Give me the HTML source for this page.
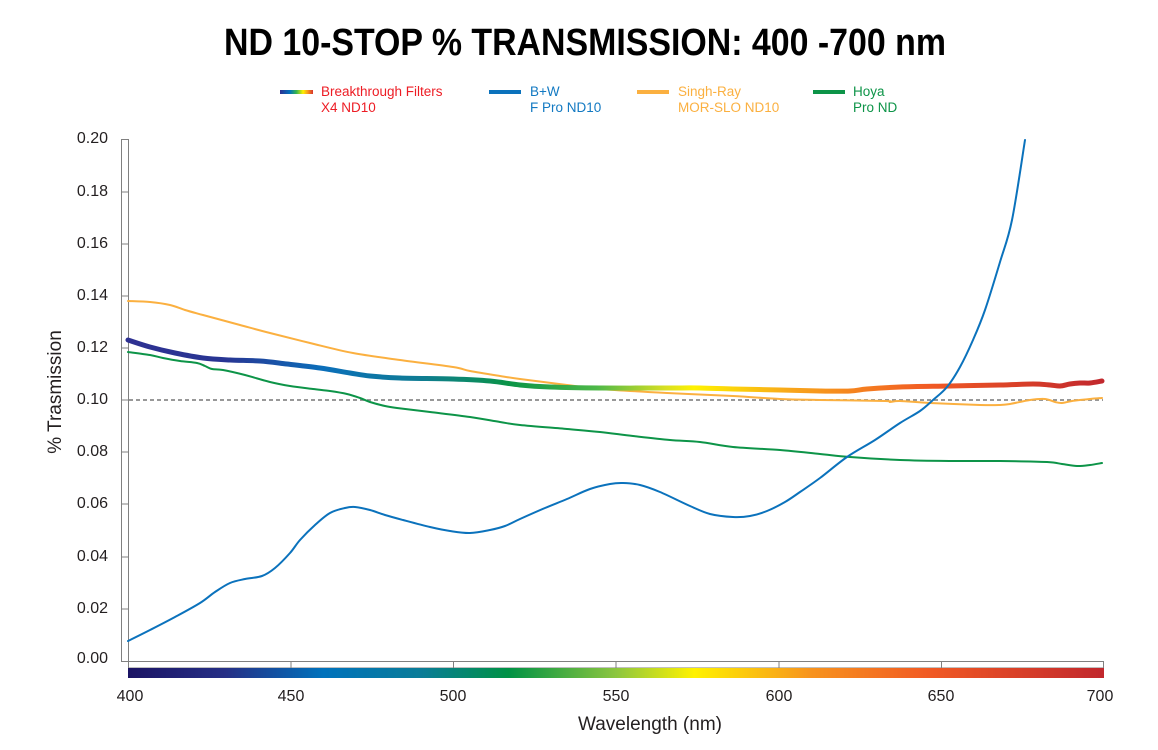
<!DOCTYPE html>
<html>
<head>
<meta charset="utf-8">
<style>
html,body{margin:0;padding:0;background:#fff;}
svg{display:block;}
text{font-family:"Liberation Sans",sans-serif;}
</style>
</head>
<body>
<svg id="chart" width="1158" height="750" viewBox="0 0 1158 750" xmlns="http://www.w3.org/2000/svg">
<defs>
<linearGradient id="spec" gradientUnits="userSpaceOnUse" x1="128" y1="0" x2="1104" y2="0">
<stop offset="0" stop-color="#1b1464"/>
<stop offset="0.1" stop-color="#262f86"/>
<stop offset="0.2" stop-color="#0072bc"/>
<stop offset="0.3" stop-color="#0a7c98"/>
<stop offset="0.39" stop-color="#009245"/>
<stop offset="0.5" stop-color="#8cc63f"/>
<stop offset="0.58" stop-color="#fff200"/>
<stop offset="0.7" stop-color="#f7931e"/>
<stop offset="0.82" stop-color="#f15a24"/>
<stop offset="1" stop-color="#c1272d"/>
</linearGradient>
<linearGradient id="specline" gradientUnits="userSpaceOnUse" x1="128" y1="0" x2="1104" y2="0">
<stop offset="0" stop-color="#2e3192"/>
<stop offset="0.1" stop-color="#283593"/>
<stop offset="0.2" stop-color="#0b6fba"/>
<stop offset="0.3" stop-color="#0f7c93"/>
<stop offset="0.39" stop-color="#0a9447"/>
<stop offset="0.48" stop-color="#4db848"/>
<stop offset="0.55" stop-color="#d7df23"/>
<stop offset="0.58" stop-color="#fff200"/>
<stop offset="0.68" stop-color="#f8a51b"/>
<stop offset="0.82" stop-color="#f15a24"/>
<stop offset="1" stop-color="#c1272d"/>
</linearGradient>
<linearGradient id="leg" x1="0" y1="0" x2="1" y2="0">
<stop offset="0" stop-color="#2e3192"/>
<stop offset="0.3" stop-color="#0072bc"/>
<stop offset="0.5" stop-color="#39b54a"/>
<stop offset="0.7" stop-color="#fff200"/>
<stop offset="0.85" stop-color="#f7931e"/>
<stop offset="1" stop-color="#d7322d"/>
</linearGradient>
</defs>

<!-- Title -->
<text x="224" y="55" font-size="38" font-weight="bold" fill="#000" textLength="722" lengthAdjust="spacingAndGlyphs">ND 10-STOP % TRANSMISSION: 400 -700 nm</text>

<!-- Legend -->
<rect x="280" y="90" width="33" height="4" fill="url(#leg)"/>
<text x="321" y="96" font-size="13.5" fill="#ed1c24">Breakthrough Filters</text>
<text x="321" y="112" font-size="13.5" fill="#ed1c24">X4 ND10</text>
<rect x="489" y="90" width="32" height="4" fill="#0b72bc"/>
<text x="530" y="96" font-size="13.5" fill="#1279c2">B+W</text>
<text x="530" y="112" font-size="13.5" fill="#1279c2">F Pro ND10</text>
<rect x="637" y="90" width="32" height="4" fill="#fbb040"/>
<text x="678" y="96" font-size="13.5" fill="#fbb040">Singh-Ray</text>
<text x="678" y="112" font-size="13.5" fill="#fbb040">MOR-SLO ND10</text>
<rect x="813" y="90" width="32" height="4" fill="#0d9448"/>
<text x="853" y="96" font-size="13.5" fill="#0d9448">Hoya</text>
<text x="853" y="112" font-size="13.5" fill="#0d9448">Pro ND</text>

<!-- Y axis bar -->
<g stroke="#808080" stroke-width="1" fill="none">
<rect x="121.5" y="139.5" width="7" height="522"/>
<line x1="121.5" y1="192" x2="128.5" y2="192"/>
<line x1="121.5" y1="244" x2="128.5" y2="244"/>
<line x1="121.5" y1="296" x2="128.5" y2="296"/>
<line x1="121.5" y1="348" x2="128.5" y2="348"/>
<line x1="121.5" y1="400" x2="128.5" y2="400"/>
<line x1="121.5" y1="452" x2="128.5" y2="452"/>
<line x1="121.5" y1="504" x2="128.5" y2="504"/>
<line x1="121.5" y1="557" x2="128.5" y2="557"/>
<line x1="121.5" y1="609" x2="128.5" y2="609"/>
<!-- X axis bar -->
<rect x="128.5" y="661.5" width="975" height="6.5"/>
<line x1="291" y1="661.5" x2="291" y2="668"/>
<line x1="453.5" y1="661.5" x2="453.5" y2="668"/>
<line x1="616" y1="661.5" x2="616" y2="668"/>
<line x1="779" y1="661.5" x2="779" y2="668"/>
<line x1="941.5" y1="661.5" x2="941.5" y2="668"/>
</g>
<!-- spectrum bar -->
<rect x="128" y="668" width="976" height="10" fill="url(#spec)"/>

<!-- Y labels -->
<g font-size="16" fill="#231f20" text-anchor="end">
<text x="108" y="143">0.20</text>
<text x="108" y="196">0.18</text>
<text x="108" y="248">0.16</text>
<text x="108" y="300">0.14</text>
<text x="108" y="352">0.12</text>
<text x="108" y="404">0.10</text>
<text x="108" y="456">0.08</text>
<text x="108" y="508">0.06</text>
<text x="108" y="561">0.04</text>
<text x="108" y="613">0.02</text>
<text x="108" y="663">0.00</text>
</g>
<!-- X labels -->
<g font-size="16" fill="#231f20" text-anchor="middle">
<text x="130" y="701">400</text>
<text x="291" y="701">450</text>
<text x="453" y="701">500</text>
<text x="616" y="701">550</text>
<text x="779" y="701">600</text>
<text x="941" y="701">650</text>
<text x="1100" y="701">700</text>
</g>
<text x="650" y="730" font-size="19" fill="#231f20" text-anchor="middle">Wavelength (nm)</text>
<text transform="translate(61,392) rotate(-90)" font-size="19" fill="#231f20" text-anchor="middle">% Trasmission</text>

<!-- dashed 0.10 -->
<line x1="129" y1="400" x2="1103" y2="400" stroke="#8a8a8a" stroke-width="1.8" stroke-dasharray="4,3"/>

<g fill="none" stroke-linejoin="round" stroke-linecap="round">
<!-- Singh-Ray -->
<polyline class="s" stroke="#fbb040" stroke-width="2" points="128,301 150,302 170,305 185,310 203,315 240,325 270,333 310,343 353,353 400,360 453,367 470,371 500,376 520,379 567,385 600,389 667,393 733,396 780,399 820,400 885,401 890,402 900,401 930,403 980,405 1000,405 1010,404 1030,400 1045,399 1055,402 1062,403 1072,401 1090,399 1102,398"/>
<!-- Hoya -->
<polyline class="s" stroke="#0d9448" stroke-width="2" points="128,352 150,355 163,358 180,361 197,363 205,366 212,369 223,370 245,375 270,382 290,386 313,389 330,391 347,394 360,398 370,402 385,406 397,408 430,412 470,417 500,422 520,425 567,429 600,432 633,436 670,440 700,442 733,447 780,450 820,454 850,457 900,460 950,461 1000,461 1047,462 1062,464 1077,466 1090,465 1102,463"/>
<!-- Breakthrough -->
<polyline class="s" stroke="url(#specline)" stroke-width="5" points="128,340 150,347 175,353 203,358 230,360 260,361 287,364 320,368 350,373 370,376 400,378 453,379 490,381 520,385 550,387 600,388 667,388 700,388 733,389 780,390 820,391 850,391 867,389 900,387 950,386 1000,385 1033,384 1050,385 1060,386 1070,384 1080,383 1090,383 1102,381"/>
<!-- B+W -->
<polyline class="s" stroke="#0b72bc" stroke-width="2" points="128,641 150,630 175,617 200,603 215,592 230,583 245,579 262,576 275,568 290,553 300,540 315,525 330,513 345,508 355,507 370,510 385,515 403,520 430,527 450,531 470,533 490,530 505,526 520,519 545,508 567,499 590,489 610,484 623,483 640,485 660,492 690,506 710,514 733,517 750,516 767,511 785,502 800,492 820,478 847,457 875,440 900,423 920,411 933,400 947,387 960,367 973,340 985,310 1000,262 1012,220 1025,140"/>
</g>
</svg>
<script>
(function(){
  try{
    var ns="http://www.w3.org/2000/svg";
    var pls=document.querySelectorAll("polyline.s");
    for(var k=0;k<pls.length;k++){
      var pl=pls[k];
      var raw=pl.getAttribute("points").trim().split(/\s+/);
      var p=raw.map(function(s){var a=s.split(",");return [parseFloat(a[0]),parseFloat(a[1])];});
      var d="M"+p[0][0]+","+p[0][1];
      for(var i=0;i<p.length-1;i++){
        var p0=p[i>0?i-1:i],p1=p[i],p2=p[i+1],p3=p[i+2<p.length?i+2:i+1];
        var t=0.5/3;
        var c1x=p1[0]+(p2[0]-p0[0])*t,c1y=p1[1]+(p2[1]-p0[1])*t;
        var c2x=p2[0]-(p3[0]-p1[0])*t,c2y=p2[1]-(p3[1]-p1[1])*t;
        d+=" C"+c1x.toFixed(2)+","+c1y.toFixed(2)+" "+c2x.toFixed(2)+","+c2y.toFixed(2)+" "+p2[0]+","+p2[1];
      }
      var path=document.createElementNS(ns,"path");
      path.setAttribute("d",d);
      path.setAttribute("stroke",pl.getAttribute("stroke"));
      path.setAttribute("stroke-width",pl.getAttribute("stroke-width"));
      path.setAttribute("fill","none");
      pl.parentNode.replaceChild(path,pl);
    }
  }catch(e){}
})();
</script>
</body>
</html>
